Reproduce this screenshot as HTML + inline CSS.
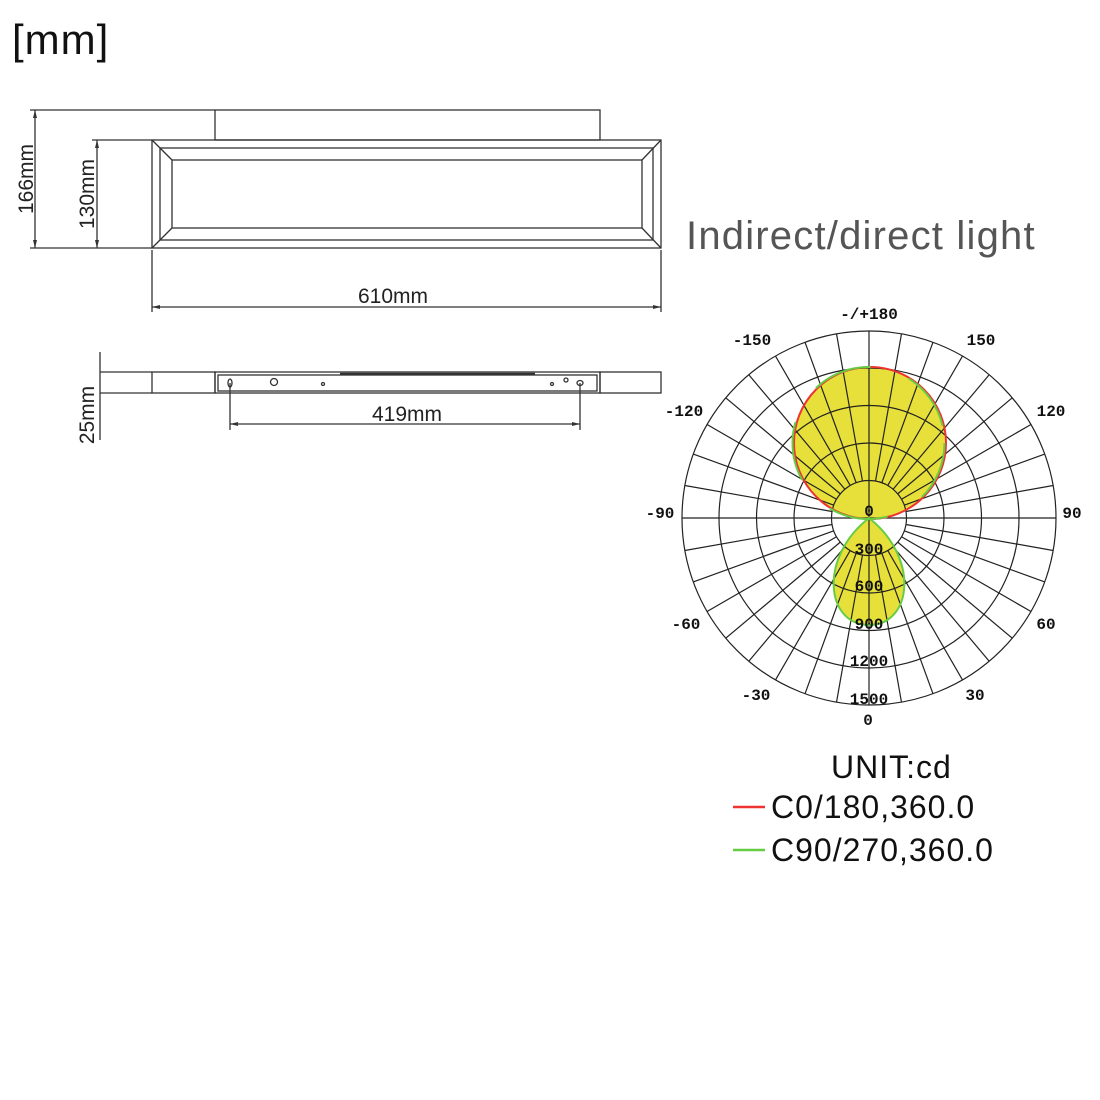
<!DOCTYPE html>
<html><head><meta charset="utf-8"><style>
html,body{margin:0;padding:0;background:#fff}
svg{display:block}
</style></head><body>
<svg width="1100" height="1100" viewBox="0 0 1100 1100" xmlns="http://www.w3.org/2000/svg">
<rect width="1100" height="1100" fill="#fff"/>
<text x="12" y="54" font-family="Liberation Sans, sans-serif" font-size="42" fill="#111" letter-spacing="1">[mm]</text>

<g stroke="#333" stroke-width="1.3" fill="none">
  <rect x="215" y="110" width="385" height="30"/>
  <rect x="152" y="140" width="509" height="108"/>
  <rect x="160" y="148" width="493" height="92"/>
  <rect x="172" y="160" width="470" height="68"/>
  <line x1="152" y1="140" x2="172" y2="160"/><line x1="661" y1="140" x2="642" y2="160"/>
  <line x1="152" y1="248" x2="172" y2="228"/><line x1="661" y1="248" x2="642" y2="228"/>
  <line x1="30" y1="110" x2="215" y2="110"/><line x1="30" y1="248" x2="152" y2="248"/>
  <line x1="35" y1="110" x2="35" y2="248"/>
  <line x1="92" y1="140" x2="152" y2="140"/>
  <line x1="97" y1="140" x2="97" y2="248"/>
  <line x1="152" y1="250" x2="152" y2="312"/><line x1="661" y1="250" x2="661" y2="312"/>
  <line x1="152" y1="307" x2="661" y2="307"/>
  <line x1="100" y1="372" x2="152" y2="372"/><line x1="100" y1="393" x2="152" y2="393"/>
  <rect x="152" y="372" width="63" height="21"/>
  <rect x="215" y="372" width="385" height="21"/>
  <rect x="218" y="375" width="379" height="16"/>
  <rect x="600" y="372" width="61" height="21"/>
  <line x1="340" y1="374" x2="535" y2="374" stroke-width="2.5"/>
  <line x1="100" y1="352" x2="100" y2="440"/>
  <line x1="230" y1="383" x2="230" y2="430"/><line x1="580" y1="383" x2="580" y2="430"/>
  <line x1="230" y1="424" x2="580" y2="424"/>
  <ellipse cx="230" cy="383" rx="2" ry="4"/>
  <circle cx="274" cy="382" r="3.5"/>
  <circle cx="323" cy="384" r="1.5"/><circle cx="552" cy="384" r="1.5"/>
  <circle cx="566" cy="380" r="2"/><ellipse cx="580" cy="383" rx="3" ry="2.5"/>
</g>
<g fill="#333">
  <path d="M35 110 l-2 8 h4z M35 248 l-2 -8 h4z M97 140 l-2 8 h4z M97 248 l-2 -8 h4z M152 307 l8 -2 v4z M661 307 l-8 -2 v4z M230 424 l8 -2 v4z M580 424 l-8 -2 v4z"/>
</g>
<g font-family="Liberation Sans, sans-serif" font-size="21" fill="#222">
  <text x="393" y="303" text-anchor="middle">610mm</text>
  <text x="407" y="421" text-anchor="middle">419mm</text>
  <text transform="translate(33,179) rotate(-90)" text-anchor="middle">166mm</text>
  <text transform="translate(94,194) rotate(-90)" text-anchor="middle">130mm</text>
  <text transform="translate(94,415) rotate(-90)" text-anchor="middle">25mm</text>
</g>

<text x="686" y="249" font-family="Liberation Sans, sans-serif" font-size="40" fill="#555" letter-spacing="1.2">Indirect/direct light</text>

<g>
  <circle cx="869" cy="443" r="76" fill="#e8e03a"/>
  <path d="M869 518 C818 558 826 625 869 625 C912 625 920 558 869 518Z" fill="#e8e03a"/>
</g>
<g stroke="#222" stroke-width="1.2" fill="none">
  <circle cx="869" cy="518" r="37.5"/><circle cx="869" cy="518" r="75"/>
  <circle cx="869" cy="518" r="112.5"/><circle cx="869" cy="518" r="150"/>
  <circle cx="869" cy="518" r="187"/>
  <line x1="682" y1="518" x2="1056" y2="518"/>
  <line x1="869" y1="331" x2="869" y2="705"/>
  <g id="sp">
    <line x1="869" y1="480.5" x2="869" y2="331" transform="rotate(10 869 518)"/>
    <line x1="869" y1="480.5" x2="869" y2="331" transform="rotate(20 869 518)"/>
    <line x1="869" y1="480.5" x2="869" y2="331" transform="rotate(30 869 518)"/>
    <line x1="869" y1="480.5" x2="869" y2="331" transform="rotate(40 869 518)"/>
    <line x1="869" y1="480.5" x2="869" y2="331" transform="rotate(50 869 518)"/>
    <line x1="869" y1="480.5" x2="869" y2="331" transform="rotate(60 869 518)"/>
    <line x1="869" y1="480.5" x2="869" y2="331" transform="rotate(70 869 518)"/>
    <line x1="869" y1="480.5" x2="869" y2="331" transform="rotate(80 869 518)"/>
  </g>
  <use href="#sp" transform="rotate(90 869 518)"/>
  <use href="#sp" transform="rotate(180 869 518)"/>
  <use href="#sp" transform="rotate(270 869 518)"/>
</g>
<g fill="none" stroke-width="2">
  <circle cx="870" cy="443" r="76" stroke="#e33"/>
  <circle cx="868.5" cy="443" r="76" stroke="#6c4" stroke-dasharray="60 40"/>
  <path d="M869 518 C818 558 826 625 869 625 C912 625 920 558 869 518Z" stroke="#6c4"/>
</g>
<g font-family="Liberation Mono, monospace" font-size="16" font-weight="bold" fill="#111" text-anchor="middle">
  <text x="869" y="319">-/+180</text>
  <text x="752" y="345">-150</text><text x="981" y="345">150</text>
  <text x="684" y="416">-120</text><text x="1051" y="416">120</text>
  <text x="660" y="518">-90</text><text x="1072" y="518">90</text>
  <text x="686" y="629">-60</text><text x="1046" y="629">60</text>
  <text x="756" y="700">-30</text><text x="975" y="700">30</text>
  <text x="868" y="725">0</text>
  <text x="869" y="516">0</text><text x="869" y="554">300</text><text x="869" y="591">600</text>
  <text x="869" y="629">900</text><text x="869" y="666">1200</text><text x="869" y="704">1500</text>
</g>

<g font-family="Liberation Sans, sans-serif" font-size="32" fill="#111" letter-spacing="1">
  <text x="831" y="778">UNIT:cd</text>
  <text x="771" y="818">C0/180,360.0</text>
  <text x="771" y="861">C90/270,360.0</text>
</g>
<line x1="733" y1="807" x2="765" y2="807" stroke="#e33" stroke-width="2.5"/>
<line x1="733" y1="850" x2="765" y2="850" stroke="#6c4" stroke-width="2.5"/>
</svg>
</body></html>
